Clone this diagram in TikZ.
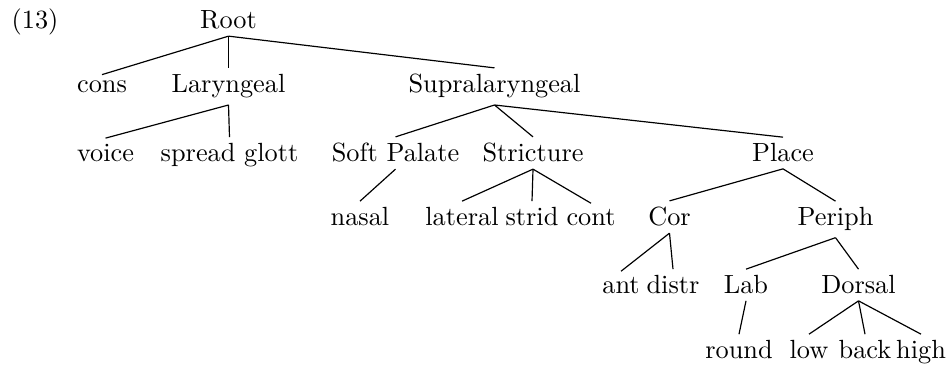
\documentclass[tikz,border=0pt]{standalone}
\begin{document}
\begin{tikzpicture}[x=0.3802pt,y=-0.3802pt,
  lbl/.style={anchor=base,inner sep=2.3pt,font=\fontsize{10}{12}\selectfont},
  edge/.style={line width=0.45pt}]
\useasboundingbox (0,0) rectangle (951,367);
% row 0
\node[lbl] (num) at (35,29) {(13)};
\node[lbl] (root) at (228.5,29) {Root};
% row 1
\node[lbl] (cons) at (102,93) {cons};
\node[lbl] (lar) at (228.5,93) {Laryngeal};
\node[lbl] (supra) at (494.5,93) {Supralaryngeal};
% row 2
\node[lbl] (voice) at (105.5,162) {voice};
\node[lbl] (spread) at (229.5,162) {spread glott};
\node[lbl] (soft) at (395.5,162) {Soft Palate};
\node[lbl] (strict) at (533,162) {Stricture};
\node[lbl] (place) at (783,162) {Place};
% row 3
\node[lbl] (nasal) at (360,226) {nasal};
\node[lbl] (lateral) at (462,226) {lateral};
\node[lbl] (strid) at (532,226) {strid};
\node[lbl] (cont) at (591,226) {cont};
\node[lbl] (cor) at (669.5,226) {Cor};
\node[lbl] (periph) at (835.5,226) {Periph};
% row 4
\node[lbl] (ant) at (621,294) {ant};
\node[lbl] (distr) at (673,294) {distr};
\node[lbl] (lab) at (746,294) {Lab};
\node[lbl] (dorsal) at (858.5,294) {Dorsal};
% row 5
\node[lbl] (round) at (739,359) {round};
\node[lbl] (low) at (809,359) {low};
\node[lbl] (back) at (865,359) {back};
\node[lbl] (high) at (921,359) {high};
% edges
\draw[edge] (root.south) -- (cons.north);
\draw[edge] (root.south) -- (lar.north);
\draw[edge] (root.south) -- (supra.north);
\draw[edge] (lar.south) -- (voice.north);
\draw[edge] (lar.south) -- (spread.north);
\draw[edge] (supra.south) -- (soft.north);
\draw[edge] (supra.south) -- (strict.north);
\draw[edge] (supra.south) -- (place.north);
\draw[edge] (soft.south) -- (nasal.north);
\draw[edge] (strict.south) -- (lateral.north);
\draw[edge] (strict.south) -- (strid.north);
\draw[edge] (strict.south) -- (cont.north);
\draw[edge] (place.south) -- (cor.north);
\draw[edge] (place.south) -- (periph.north);
\draw[edge] (cor.south) -- (ant.north);
\draw[edge] (cor.south) -- (distr.north);
\draw[edge] (periph.south) -- (lab.north);
\draw[edge] (periph.south) -- (dorsal.north);
\draw[edge] (lab.south) -- (round.north);
\draw[edge] (dorsal.south) -- (low.north);
\draw[edge] (dorsal.south) -- (back.north);
\draw[edge] (dorsal.south) -- (high.north);
\end{tikzpicture}
\end{document}
